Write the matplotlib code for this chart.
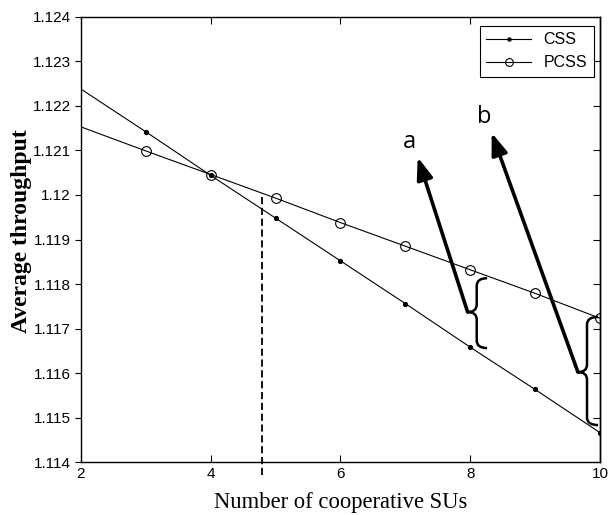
import matplotlib

matplotlib.use("Agg")
import matplotlib.pyplot as plt
from matplotlib.patches import PathPatch
from matplotlib.path import Path
from matplotlib.ticker import FuncFormatter, MultipleLocator, NullFormatter

# 吞吐量 vs 協作 SU 數（x=2 只畫線不畫 marker）
num_sus = [2, 3, 4, 5, 6, 7, 8, 9, 10]
css = [1.12238, 1.12142, 1.12044, 1.11948, 1.11852, 1.11756, 1.11658, 1.11563, 1.11466]
pcss = [1.12153, 1.12099, 1.12046, 1.11993, 1.11938, 1.11885, 1.11832, 1.11779, 1.11723]

# 交叉點附近的虛線
cross_x = 4.79
cross_y = (1.1137, 1.11996)

# 標註：箭頭 (尾, 頭)、文字、括號 (尖端 x, 脊 x, 端 x, 上, 下, 中)
arrow_a = ((7.96, 1.11737), (7.19, 1.12085))
arrow_b = ((9.66, 1.11602), (8.33, 1.12140))
label_a = (7.07, 1.12120)
label_b = (8.22, 1.12175)
brace_a = (7.96, 8.10, 8.26, 1.11813, 1.11656, 1.11737)
brace_b = (9.66, 9.80, 9.97, 1.11726, 1.11483, 1.11602)

plt.rcParams["font.family"] = ["Liberation Sans", "DejaVu Sans"]


def _brace(ax, tip_x, spine_x, end_x, top, bottom, mid, r=0.00017):
    verts = [
        (end_x, top), (spine_x, top), (spine_x, top - r),
        (spine_x, mid + r),
        (spine_x, mid), (tip_x, mid),
        (spine_x, mid), (spine_x, mid - r),
        (spine_x, bottom + r),
        (spine_x, bottom), (end_x, bottom),
    ]
    codes = [
        Path.MOVETO, Path.CURVE3, Path.CURVE3,
        Path.LINETO,
        Path.CURVE3, Path.CURVE3,
        Path.CURVE3, Path.CURVE3,
        Path.LINETO,
        Path.CURVE3, Path.CURVE3,
    ]
    ax.add_patch(PathPatch(Path(verts, codes), fill=False, lw=1.8,
                           edgecolor="black", clip_on=False, zorder=6))


fig = plt.figure(figsize=(6.08, 5.15), dpi=100)
ax = fig.add_axes([0.1332, 0.1029, 0.8536, 0.8641])

ax.plot(num_sus, css, color="black", lw=0.8, marker=".", markersize=5.5,
        markevery=slice(1, None), label="CSS")
ax.plot(num_sus, pcss, color="black", lw=0.8, marker="o", markersize=7,
        mfc="none", mew=0.8, markevery=slice(1, None), label="PCSS")

ax.plot([cross_x, cross_x], cross_y, color="black", lw=1.3,
        linestyle=(0, (4, 2)), clip_on=False)

for (tail, head) in (arrow_a, arrow_b):
    ax.annotate("", xy=head, xytext=tail,
                arrowprops=dict(arrowstyle="-|>,head_length=0.55,head_width=0.2",
                                lw=2.6, color="black", mutation_scale=24,
                                shrinkA=0, shrinkB=0))
ax.text(*label_a, "a", fontsize=17, family=["Open Sans", "DejaVu Sans"],
        ha="center", va="center")
ax.text(*label_b, "b", fontsize=17, family=["Open Sans", "DejaVu Sans"],
        ha="center", va="center")
_brace(ax, *brace_a)
_brace(ax, *brace_b)

ax.set_xlim(2, 10)
ax.set_ylim(1.114, 1.124)
ax.xaxis.set_major_locator(MultipleLocator(2))
ax.yaxis.set_major_locator(MultipleLocator(0.001))
ax.yaxis.set_major_formatter(FuncFormatter(lambda v, _: f"{v:g}"))
# x 軸上下都朝內；y 左側朝外，右側另開一條朝內
ax.tick_params(axis="x", direction="in", top=True, labelsize=11, length=5)
ax.tick_params(axis="y", direction="out", right=False, labelsize=11, length=4)
right = ax.secondary_yaxis("right")
right.yaxis.set_major_locator(MultipleLocator(0.001))
right.yaxis.set_major_formatter(NullFormatter())
right.tick_params(direction="in", length=5)
for s in list(ax.spines.values()) + list(right.spines.values()):
    s.set_linewidth(1.0)

ax.set_xlabel("Number of cooperative SUs", family=["Liberation Serif"],
              fontsize=16.3, labelpad=8)
ax.set_ylabel("Average throughput", family=["Liberation Serif"],
              fontsize=17, fontweight="bold")
ax.yaxis.set_label_coords(-0.094, 0.519)

leg = ax.legend(loc="upper right", bbox_to_anchor=(0.988, 0.98),
                borderaxespad=0, fontsize=11.5, handlelength=2.8,
                markerscale=0.8, fancybox=False, edgecolor="black",
                framealpha=1)
leg.get_frame().set_linewidth(0.8)

fig.savefig("out.png", dpi=100)
